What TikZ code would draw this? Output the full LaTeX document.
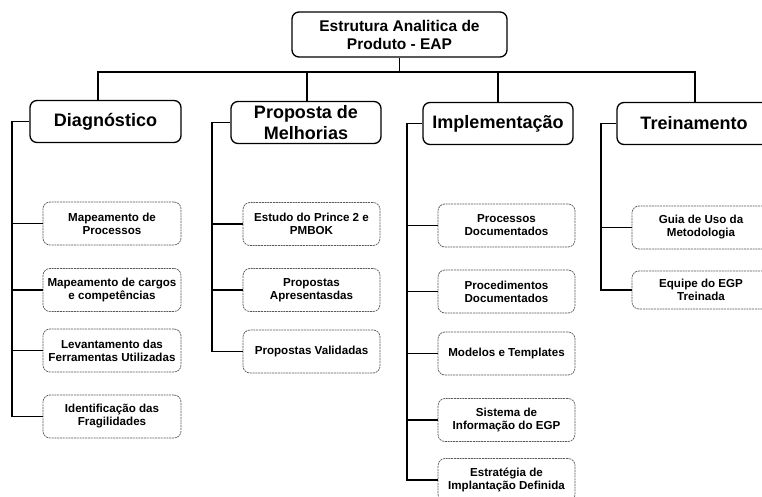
\documentclass[tikz,border=0pt]{standalone}
\usepackage{fontspec}
\setmainfont{Liberation Sans}
\begin{document}
\begin{tikzpicture}[x=1pt,y=-1pt,
  topbox/.style={draw=black,line width=1.3pt,rounded corners=7pt,fill=white,
    minimum width=215pt,minimum height=45pt,align=center,inner sep=0pt,
    font=\fontsize{15.5}{18}\selectfont\bfseries},
  lvbox/.style={draw=black,line width=1.3pt,rounded corners=7pt,fill=white,
    minimum height=42pt,align=center,inner sep=0pt,
    font=\fontsize{18}{20.5}\selectfont\bfseries},
  chbox/.style={draw=black!65,line width=0.7pt,dash pattern=on 2pt off 0.8pt,
    rounded corners=7pt,fill=white,minimum width=137pt,minimum height=43pt,
    align=center,inner sep=0pt,font=\fontsize{11.6}{13}\selectfont\bfseries},
  conn/.style={draw=black,line width=1.6pt}]
\clip (0,0) rectangle (762,497);
\fill[white] (0,0) rectangle (762,497);
% top
\node[topbox] (top) at (399.5,34.5) {Estrutura Analitica de\\Produto - EAP};
% level 2
\node[lvbox,minimum width=151pt] (diag) at (105.5,121.5) {Diagnóstico};
\node[lvbox,minimum width=150pt] (prop) at (306,122.5) {Proposta de\\Melhorias};
\node[lvbox,minimum width=150pt] (impl) at (498,123.5) {Implementação};
\node[lvbox,minimum width=154pt] (trei) at (694,123.5) {Treinamento};
% children
\node[chbox,minimum width=138pt] (d1) at (112,223.5) {Mapeamento de\\Processos};
\node[chbox,minimum width=138pt] (d2) at (112,290) {Mapeamento de cargos\\e competências};
\node[chbox,minimum width=138pt] (d3) at (112,350.5) {Levantamento das\\Ferramentas Utilizadas};
\node[chbox,minimum width=138pt] (d4) at (112,416.5) {Identificação das\\Fragilidades};
\node[chbox] (p1) at (311.5,224) {Estudo do Prince 2 e\\PMBOK};
\node[chbox] (p2) at (311.5,290) {Propostas\\Apresentasdas};
\node[chbox] (p3) at (311.5,351.5) {Propostas Validadas};
\node[chbox] (i1) at (506.5,225.5) {Processos\\Documentados};
\node[chbox] (i2) at (506.5,291.5) {Procedimentos\\Documentados};
\node[chbox] (i3) at (506.5,353.5) {Modelos e Templates};
\node[chbox] (i4) at (506.5,420) {Sistema de\\Informação do EGP};
\node[chbox] (i5) at (506.5,480) {Estratégia de\\Implantação Definida};
\node[chbox,minimum width=138pt] (t1) at (701,227.5) {Guia de Uso da\\Metodologia};
\node[chbox,minimum width=138pt,minimum height=38pt] (t2) at (701,290) {Equipe do EGP\\Treinada};
% top connectors
\coordinate (bar) at (399.5,72);
\draw[conn] (top.south) -- (bar);
\draw[conn] ([xshift=-7.5pt]diag.north) |- (bar);
\draw[conn] ([xshift=1pt]prop.north) |- (bar);
\draw[conn] (impl.north) |- (bar);
\draw[conn] ([xshift=1pt]trei.north) |- (bar);
% spines
\coordinate (sd) at (12,0);
\coordinate (sp) at (212,0);
\coordinate (si) at (407,0);
\coordinate (st) at (601,0);
\draw[conn] (diag.west) -| (sd |- d4.west) -- (d4.west);
\foreach \c in {d1,d2,d3} \draw[conn] (sd |- \c.west) -- (\c.west);
\draw[conn] (prop.west) -| (sp |- p3.west) -- (p3.west);
\foreach \c in {p1,p2} \draw[conn] (sp |- \c.west) -- (\c.west);
\draw[conn] (impl.west) -| (si |- i5.west) -- (i5.west);
\foreach \c in {i1,i2,i3,i4} \draw[conn] (si |- \c.west) -- (\c.west);
\draw[conn] (trei.west) -| (st |- t2.west) -- (t2.west);
\draw[conn] (st |- t1.west) -- (t1.west);
\end{tikzpicture}
\end{document}
